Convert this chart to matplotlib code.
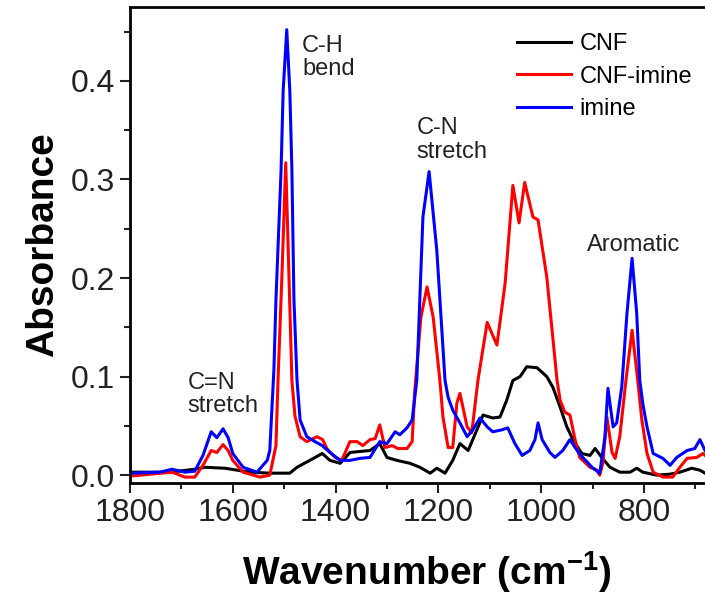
import numpy as np
import matplotlib
matplotlib.use("Agg")
import matplotlib.pyplot as plt
from matplotlib.ticker import MultipleLocator, FixedLocator

plt.rcParams['font.family'] = ['Liberation Sans', 'DejaVu Sans']
plt.rcParams['mathtext.fontset'] = 'custom'
plt.rcParams['mathtext.rm'] = 'Liberation Sans'
plt.rcParams['mathtext.bf'] = 'Liberation Sans:bold'

# spectra (wavenumber in cm-1, absorbance)
cnf_wn = [1800, 1722, 1674, 1654, 1615, 1567, 1528, 1489, 1475, 1450, 1426, 1411,
          1391, 1372, 1353, 1333, 1314, 1300, 1281, 1255, 1236, 1216, 1203, 1187,
          1172, 1158, 1142, 1125, 1113, 1094, 1080, 1067, 1055, 1041, 1028, 1008,
          989, 977, 963, 950, 938, 921, 905, 895, 882, 866, 847, 827, 814, 802,
          775, 749, 730, 707, 691, 681]
cnf_abs = [0.003, 0.003, 0.006, 0.008, 0.007, 0.003, 0.002, 0.002, 0.008, 0.015, 0.022, 0.015,
           0.012, 0.023, 0.024, 0.025, 0.032, 0.018, 0.015, 0.012, 0.008, 0.002, 0.007, 0.002,
           0.015, 0.032, 0.025, 0.046, 0.061, 0.058, 0.059, 0.076, 0.096, 0.100, 0.110, 0.109,
           0.100, 0.089, 0.069, 0.049, 0.036, 0.022, 0.020, 0.027, 0.018, 0.008, 0.003, 0.003, 0.007, 0.003,
           0.000, 0.001, 0.003, 0.007, 0.005, 0.002]

cnf_imine_wn = [1800, 1718, 1693, 1674, 1658, 1642, 1631, 1619, 1609, 1600, 1580, 1547,
                1528, 1516, 1512, 1504, 1497, 1491, 1485, 1479, 1469, 1456, 1436, 1425,
                1417, 1401, 1388, 1372, 1358, 1347, 1333, 1323, 1314, 1304, 1290, 1279,
                1261, 1251, 1246, 1234, 1222, 1210, 1197, 1191, 1181, 1172, 1164, 1158,
                1144, 1135, 1123, 1105, 1086, 1070, 1055, 1043, 1032, 1016, 1006, 989,
                969, 963, 954, 944, 934, 925, 905, 891, 886, 880, 872, 862, 856, 847,
                835, 823, 812, 804, 794, 782, 763, 744, 730, 716, 697, 685, 681]
cnf_imine_abs = [-0.001, 0.003, -0.002, -0.002, 0.010, 0.025, 0.023, 0.031, 0.025, 0.015, 0.003, -0.002,
                 0.000, 0.030, 0.096, 0.208, 0.317, 0.208, 0.096, 0.060, 0.039, 0.034, 0.039, 0.036,
                 0.027, 0.018, 0.015, 0.034, 0.034, 0.030, 0.036, 0.037, 0.051, 0.028, 0.030, 0.027,
                 0.027, 0.034, 0.085, 0.160, 0.191, 0.160, 0.096, 0.059, 0.028, 0.028, 0.073, 0.083,
                 0.049, 0.043, 0.096, 0.155, 0.132, 0.195, 0.294, 0.256, 0.297, 0.262, 0.259, 0.201,
                 0.096, 0.076, 0.064, 0.061, 0.036, 0.018, 0.008, 0.005, 0.000, 0.012, 0.059, 0.023, 0.017, 0.039,
                 0.096, 0.147, 0.096, 0.056, 0.022, 0.003, -0.002, -0.002, 0.008, 0.017, 0.018, 0.022, 0.020]

imine_wn = [1800, 1742, 1718, 1693, 1674, 1658, 1642, 1631, 1619, 1609, 1600, 1580,
            1553, 1533, 1528, 1520, 1516, 1506, 1502, 1495, 1489, 1485, 1481, 1475,
            1469, 1456, 1440, 1426, 1411, 1391, 1372, 1353, 1333, 1314, 1300, 1284,
            1275, 1261, 1251, 1242, 1230, 1218, 1203, 1187, 1181, 1172, 1158, 1144,
            1133, 1119, 1105, 1094, 1076, 1065, 1051, 1037, 1022, 1012, 1006, 998,
            983, 973, 958, 944, 930, 919, 901, 886, 876, 870, 860, 853, 843, 833,
            823, 814, 808, 802, 794, 782, 763, 749, 736, 716, 701, 691, 681]
imine_abs = [0.002, 0.003, 0.006, 0.003, 0.004, 0.020, 0.044, 0.038, 0.047, 0.038, 0.022, 0.008,
             0.003, 0.015, 0.025, 0.107, 0.178, 0.310, 0.390, 0.452, 0.390, 0.310, 0.178, 0.096,
             0.056, 0.039, 0.034, 0.030, 0.023, 0.015, 0.015, 0.017, 0.018, 0.034, 0.032, 0.044,
             0.041, 0.048, 0.056, 0.096, 0.262, 0.308, 0.228, 0.096, 0.079, 0.066, 0.053, 0.039,
             0.046, 0.058, 0.049, 0.044, 0.046, 0.048, 0.032, 0.020, 0.025, 0.036, 0.053, 0.036,
             0.023, 0.018, 0.025, 0.036, 0.025, 0.018, 0.008, 0.002, 0.038, 0.088, 0.049, 0.053, 0.090, 0.164,
             0.220, 0.164, 0.096, 0.072, 0.049, 0.022, 0.017, 0.010, 0.018, 0.025, 0.027, 0.036, 0.025]

fig = plt.figure(figsize=(7.05, 6.01), dpi=100)
ax = fig.add_axes([0.1844, 0.1963, 0.8383, 0.792])

ax.plot(cnf_wn, cnf_abs, color='black', lw=2.2, label='CNF', solid_joinstyle='round')
ax.plot(cnf_imine_wn, cnf_imine_abs, color='#ff0000', lw=2.2, label='CNF-imine', solid_joinstyle='round')
ax.plot(imine_wn, imine_abs, color='#0000ff', lw=2.2, label='imine', solid_joinstyle='round')

ax.set_xlim(1800, 650)
ax.set_ylim(-0.008, 0.475)
ax.xaxis.set_major_locator(FixedLocator([1800, 1600, 1400, 1200, 1000, 800]))
ax.xaxis.set_minor_locator(FixedLocator([1700, 1500, 1300, 1100, 900, 700]))
ax.yaxis.set_major_locator(MultipleLocator(0.1))
ax.yaxis.set_minor_locator(MultipleLocator(0.05))
ax.tick_params(which='both', direction='out', width=1.5, colors='#222222', labelsize=23, pad=4)
ax.tick_params(which='major', length=7)
ax.tick_params(which='minor', length=4)
for s in ax.spines.values():
    s.set_linewidth(2)

ax.set_xlabel('Wavenumber (cm$^{\\mathbf{-1}}$)', fontsize=28, fontweight='bold')
ax.set_ylabel('Absorbance', fontsize=28, fontweight='bold')
ax.xaxis.set_label_coords(0.5025, -0.14)
ax.yaxis.set_label_coords(-0.117, 0.5)

txt = dict(fontsize=17, color='#222222', ha='left', va='top', linespacing=1.1)
ax.text(1465, 0.447, 'C-H\nbend', **txt)
ax.text(1243, 0.363, 'C-N\nstretch', **txt)
ax.text(1688, 0.105, 'C=N\nstretch', **txt)
ax.text(911, 0.245, 'Aromatic', **txt)

ax.legend(loc='upper left', bbox_to_anchor=(517 / 705, 1 - 33 / 601),
          bbox_transform=fig.transFigure, frameon=False, fontsize=17,
          handlelength=2.3, handletextpad=0.35, labelspacing=0.45,
          borderpad=0, borderaxespad=0)

fig.savefig('out.png', dpi=100)
